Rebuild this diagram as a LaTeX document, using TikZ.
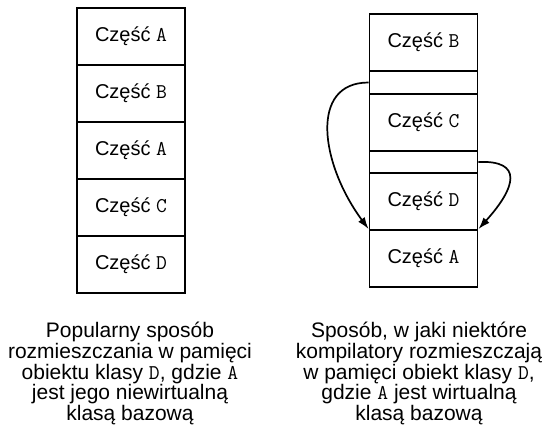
\documentclass[tikz,border=0pt]{standalone}
\usepackage{fontspec}
\setmainfont{Liberation Sans}
\usetikzlibrary{arrows.meta}
\newcommand\tx[1]{{\ttfamily\fontsize{21}{21}\selectfont #1}}
\begin{document}
\begin{tikzpicture}[x=1pt,y=-1pt,
  cell/.style={draw, line width=1.7pt, minimum width=108pt, inner sep=0pt,
    font=\fontsize{20}{20}\selectfont},
  part/.style={cell, minimum height=57pt},
  gapbox/.style={cell},
  captext/.style={align=center, inner sep=0pt, font=\fontsize{21}{20.7}\selectfont},
  arr/.style={line width=1.7pt, -{Latex[length=12pt,width=8pt]}}]
\useasboundingbox (0,0) rectangle (551,432);
% left column
\node[part] (l1) at (131,36.5)  {Część \tx{A}};
\node[part] (l2) at (131,93.5)  {Część \tx{B}};
\node[part] (l3) at (131,150.5) {Część \tx{A}};
\node[part] (l4) at (131,207.5) {Część \tx{C}};
\node[part] (l5) at (131,264.5) {Część \tx{D}};
% right column
\node[part] (rb) at (423.5,42.5)  {Część \tx{B}};
\node[gapbox, minimum height=23pt] (g1) at (423.5,82.5) {};
\node[part] (rc) at (423.5,122.5) {Część \tx{C}};
\node[gapbox, minimum height=22pt] (g2) at (423.5,162) {};
\node[part] (rd) at (423.5,201.5) {Część \tx{D}};
\node[part] (ra) at (423.5,258.5) {Część \tx{A}};
% arrows
\draw[arr] (g1.west) .. controls +(-60,0) and +(-48,-65) .. (ra.north west);
\draw[arr] (g2.east) .. controls +(45,-2) and +(38,-42) .. (ra.north east);
% captions
\node[captext, anchor=north] (c1) at (130,322) {Popularny sposób\\rozmieszczania w pamięci\\obiektu klasy \tx{D}, gdzie \tx{A}\\jest jego niewirtualną\\klasą bazową};
\node[captext, anchor=north] (c2) at (419,322) {Sposób, w jaki niektóre\\kompilatory rozmieszczają\\w pamięci obiekt klasy \tx{D},\\gdzie \tx{A} jest wirtualną\\klasą bazową};
\end{tikzpicture}
\end{document}
